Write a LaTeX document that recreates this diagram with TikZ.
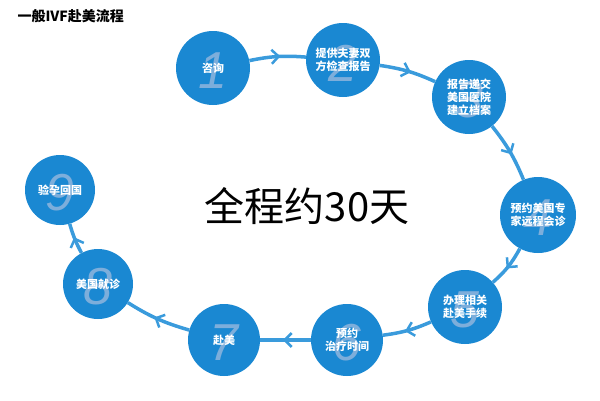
\documentclass[tikz,border=0pt]{standalone}
\usepackage{fontspec}
\setmainfont{Liberation Sans}
\newfontfamily\cjk{Noto Sans CJK SC}
\usetikzlibrary{decorations.markings,arrows.meta}
\definecolor{cb}{HTML}{1A88D2}
\definecolor{lb}{HTML}{3A9BDC}
\definecolor{nb}{HTML}{7DAEDB}
\begin{document}
\begin{tikzpicture}[x=1pt,y=-1pt,
  stepc/.style={circle,fill=cb,minimum size=74pt,inner sep=0pt},
  lab/.style={text=white,font=\cjk\bfseries\fontsize{11}{13}\selectfont,align=center},
  num/.style={text=nb,font=\fontsize{52}{52}\selectfont\itshape},
  conn/.style={draw=lb,line width=3.5pt,postaction={decorate},decoration={markings,mark=at position 0.55 with {\arrow[line width=2.5pt]{Straight Barb[length=7pt,width=14pt]}}}}]
\useasboundingbox (0,0) rectangle (600,400);
\node[anchor=west,font=\cjk\bfseries\fontsize{14}{14}\selectfont] (t) at (14,16) {一般IVF赴美流程};
\node[font=\cjk\fontsize{40}{40}\selectfont] (c) at (307,206) {全程约30天};
\foreach \n/\x/\y/\r/\t in {1/213/68/37/咨询,2/343/60/37/提供夫妻双\\方检查报告,3/469/97/37/报告递交\\美国医院\\建立档案,4/538/215/38/预约美国专\\家远程会诊,5/465/307/37/办理相关\\赴美手续,6/347/340/36/预约\\治疗时间,7/224/340/36/赴美,8/98/284/35/美国就诊,9/60/190/35/验孕回国}{
  \node[stepc,minimum size=2*\r pt] (s\n) at (\x,\y) {};
  \node[num] (n\n) at (\x,\y+3) {\n};
  \node[lab] (l\n) at (\x,\y) {\t};
}
\draw[conn] (s1) to[bend left=8] (s2);
\draw[conn] (s2) to[bend left=8] (s3);
\draw[conn] (s3) to[bend left=8] (s4);
\draw[conn] (s4) to[bend left=10] (s5);
\draw[conn] (s5) to[bend left=8] (s6);
\draw[conn] (s6) to (s7);
\draw[conn] (s7) to[bend left=8] (s8);
\draw[conn] (s8) to[bend left=6] (s9);
\end{tikzpicture}
\end{document}
